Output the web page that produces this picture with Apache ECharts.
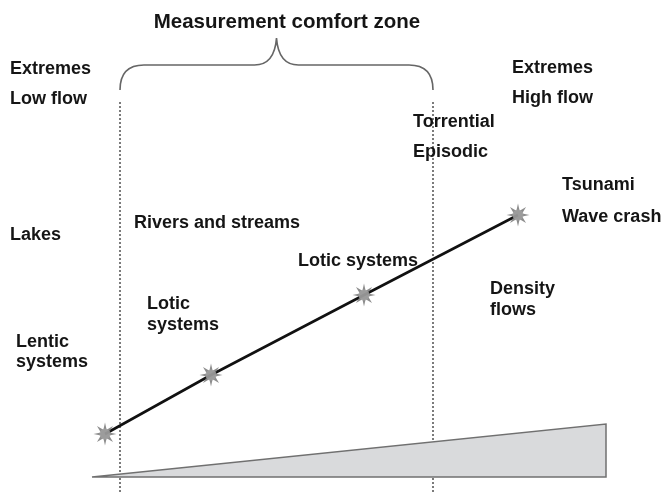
<!DOCTYPE html>
<html>
<head>
<meta charset="utf-8">
<script src="https://cdn.jsdelivr.net/npm/echarts@6/dist/echarts.min.js"></script>
<style>
  html, body { margin: 0; padding: 0; background: #fff; }
  #chart { width: 663px; height: 493px; }
</style>
</head>
<body>
<div id="chart"></div>
<script>
// flow line with the four star markers (page-like coords, y grows down)
var flowX = [105, 211, 364, 518]
var flowY = [434, 375, 295, 215]

// the two dotted limits of the comfort zone
var zoneX = [120, 433]
var zoneTop = [102, 102]

// brace above the zone: ends, bar, tip
var braceEndY = 90
var braceBarY = 65
var braceTipY = 38

// the grey wedge at the bottom
var wedgeX = [92, 606, 606]
var wedgeY = [477, 424, 477]

// text labels
var labelText = ['Extremes', 'Low flow', 'Extremes', 'High flow', 'Torrential', 'Episodic',
  'Tsunami', 'Wave crash', 'Lakes', 'Rivers and streams', 'Lotic systems', 'Lotic', 'systems',
  'Density', 'flows', 'Lentic', 'systems']
var labelX = [10, 10, 512, 512, 413, 413, 562, 562, 10, 134, 298, 147, 147, 490, 490, 16, 16]
var labelY = [69, 99, 68, 98, 122, 152, 185, 217, 235, 223, 261, 304, 325, 289, 310, 342, 362]
var titleText = 'Measurement comfort zone'

var chart = echarts.init(document.getElementById('chart'))

var starPath = 'path://M50,0 L57,32 L85,15 L68,43 L100,50 L68,57 L85,85 L57,68 L50,100 L43,68 L15,85 L32,57 L0,50 L32,43 L15,15 L43,32 Z'

function pts(xs, ys) {
  var out = []
  for (var i = 0; i < xs.length; i++) out.push([xs[i], ys[i]])
  return out
}

var zoneLines = zoneX.map(function (x, i) {
  return {
    type: 'line',
    data: [[x, zoneTop[i]], [x, 493]],
    symbol: 'none',
    silent: true,
    lineStyle: { color: '#444', width: 1.4, type: [2, 2] },
    z: 1
  }
})

var option = {
  animation: false,
  backgroundColor: '#fff',
  grid: { left: 0, right: 0, top: 0, bottom: 0 },
  xAxis: { type: 'value', min: 0, max: 663, show: false },
  yAxis: { type: 'value', min: 0, max: 493, inverse: true, show: false },
  series: zoneLines.concat([
    {
      // wedge
      type: 'custom',
      silent: true,
      z: 2,
      data: [0],
      renderItem: function (params, api) {
        var p = pts(wedgeX, wedgeY).map(function (d) { return api.coord(d) })
        return {
          type: 'polygon',
          shape: { points: p },
          style: { fill: '#d9dadc', stroke: '#707070', lineWidth: 1.5 }
        }
      }
    },
    {
      // brace
      type: 'custom',
      silent: true,
      z: 2,
      data: [0],
      renderItem: function (params, api) {
        var l = zoneX[0], r = zoneX[1], m = (l + r) / 2
        var c = function (x, y) { return api.coord([x, y]) }
        var a = c(l, braceEndY), a1 = c(l, braceBarY), a2 = c(l + 24, braceBarY)
        var b = c(m - 22, braceBarY), b1 = c(m - 2, braceBarY), t = c(m, braceTipY)
        var d1 = c(m + 2, braceBarY), d = c(m + 22, braceBarY)
        var e = c(r - 24, braceBarY), e1 = c(r, braceBarY), f = c(r, braceEndY)
        var path = 'M' + a + ' Q' + a1 + ' ' + a2 + ' L' + b + ' Q' + b1 + ' ' + t +
          ' Q' + d1 + ' ' + d + ' L' + e + ' Q' + e1 + ' ' + f
        return {
          type: 'path',
          shape: { pathData: path.replace(/,/g, ' ') },
          style: { fill: null, stroke: '#666', lineWidth: 1.6 }
        }
      }
    },
    {
      type: 'line',
      data: pts(flowX, flowY),
      symbol: 'none',
      silent: true,
      lineStyle: { color: '#111', width: 2.6 },
      z: 3
    },
    {
      type: 'scatter',
      data: pts(flowX, flowY),
      symbol: starPath,
      symbolSize: 23,
      silent: true,
      itemStyle: { color: '#6f6f6f' },
      z: 4
    },
    {
      type: 'scatter',
      data: pts(flowX, flowY),
      symbol: 'circle',
      symbolSize: 11,
      silent: true,
      itemStyle: { color: '#a0a0a0' },
      z: 5
    },
    {
      // labels
      type: 'custom',
      silent: true,
      z: 6,
      data: labelText.map(function (t, i) { return [labelX[i], labelY[i], i] }),
      renderItem: function (params, api) {
        var i = api.value(2)
        var p = api.coord([api.value(0), api.value(1)])
        return {
          type: 'text',
          x: p[0],
          y: p[1],
          style: {
            text: labelText[i],
            fill: '#151515',
            font: 'bold 18px "Liberation Sans", Arial, sans-serif',
            align: 'left',
            verticalAlign: 'middle'
          }
        }
      }
    },
    {
      type: 'custom',
      silent: true,
      z: 6,
      data: [[287, 22]],
      renderItem: function (params, api) {
        var p = api.coord([api.value(0), api.value(1)])
        return {
          type: 'text',
          x: p[0],
          y: p[1],
          style: {
            text: titleText,
            fill: '#151515',
            font: 'bold 20.5px "Liberation Sans", Arial, sans-serif',
            align: 'center',
            verticalAlign: 'middle'
          }
        }
      }
    }
  ])
}

chart.setOption(option)
</script>
</body>
</html>
